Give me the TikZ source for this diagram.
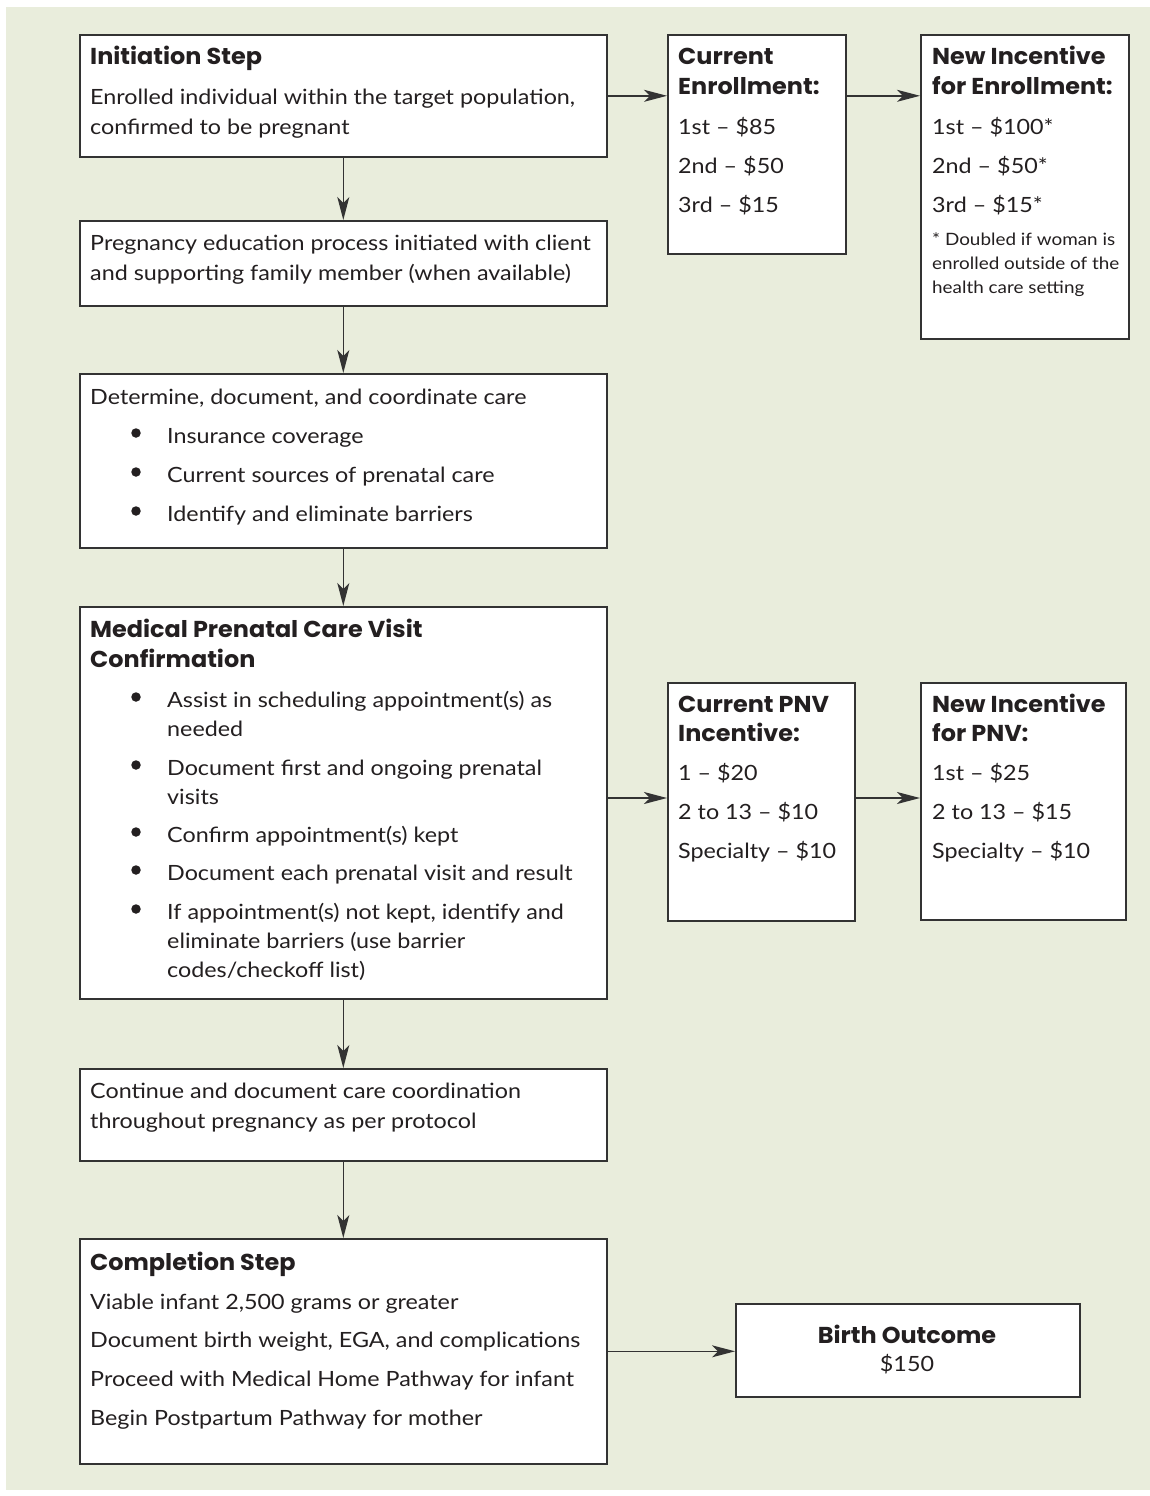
\documentclass[tikz,border=0pt]{standalone}
\usepackage{fontspec}
\setmainfont{Lato}[FakeStretch=1.11]
\newfontfamily\headfont{Poppins}[FakeStretch=1.04]
\usetikzlibrary{arrows.meta}

\definecolor{panel}{HTML}{E9EDDC}
\definecolor{ink}{HTML}{231F20}
\definecolor{rule}{HTML}{333333}

\tikzset{
  stepbox/.style={draw=rule, line width=1.6pt, fill=white, anchor=north west, inner sep=0pt},
  txt/.style={anchor=base west, inner sep=0pt, text=ink, font=\fontsize{21}{25}\selectfont},
  head/.style={txt, font=\fontsize{23}{27}\headfont\bfseries},
  note/.style={txt, font=\fontsize{17}{20}\selectfont},
  ctr/.style={anchor=base, inner sep=0pt, text=ink, font=\fontsize{21}{25}\selectfont},
  bullet/.style={circle, fill=ink, minimum size=9.5pt, inner sep=0pt},
  flow/.style={draw=rule, line width=1.4pt, -{Stealth[length=23pt, width=12pt, inset=6pt]}},
}

\begin{document}
\begin{tikzpicture}[x=1pt, y=-1pt]
\useasboundingbox (0,0) rectangle (1150,1496);
\fill[panel] (6,7) rectangle (1150,1490);

% ---- main column -------------------------------------------------------
\node (init) [stepbox, minimum width=527pt, minimum height=122pt] at (79,34) {};
\node (edu)  [stepbox, minimum width=527pt, minimum height=85pt]  at (79,220) {};
\node (det)  [stepbox, minimum width=527pt, minimum height=174pt] at (79,373) {};
\node (med)  [stepbox, minimum width=527pt, minimum height=392pt] at (79,606) {};
\node (cont) [stepbox, minimum width=527pt, minimum height=92pt]  at (79,1068) {};
\node (comp) [stepbox, minimum width=527pt, minimum height=225pt] at (79,1238) {};

% ---- incentive boxes ---------------------------------------------------
\node (ce)    [stepbox, minimum width=178pt, minimum height=219pt] at (667,34) {};
\node (nie)   [stepbox, minimum width=208pt, minimum height=304pt] at (920,34) {};
\node (cpnv)  [stepbox, minimum width=187pt, minimum height=238pt] at (667,682) {};
\node (npnv)  [stepbox, minimum width=205pt, minimum height=237pt] at (920,682) {};
\node (birth) [stepbox, minimum width=344pt, minimum height=93pt]  at (735,1303) {};

% ---- texts of the main column ------------------------------------------
\node (init-h) [head] at (90,65) {Initiation Step};
\foreach \y/\t [count=\k] in {104/{Enrolled individual within the target population,},
                              134/{confirmed to be pregnant}}
  \node (init-l\k) [txt] at (90,\y) {\t};

\foreach \y/\t [count=\k] in {250/{Pregnancy education process initiated with client},
                              280/{and supporting family member (when available)}}
  \node (edu-l\k) [txt] at (90,\y) {\t};

\node (det-l0) [txt] at (90,404) {Determine, document, and coordinate care};
\foreach \y/\t [count=\k] in {443/{Insurance coverage},
                              482/{Current sources of prenatal care},
                              521/{Identify and eliminate barriers}}{
  \node (det-b\k) [bullet] at (136,\y-10) {};
  \node (det-l\k) [txt] at (167,\y) {\t};
}

\node (med-h1) [head] at (90,637) {Medical Prenatal Care Visit};
\node (med-h2) [head] at (90,667) {Confirmation};
\foreach \y [count=\k] in {707,775,842,880,919}
  \node (med-b\k) [bullet] at (136,\y-10) {};
\foreach \y/\t [count=\k] in {707/{Assist in scheduling appointment(s) as},
                              736/{needed},
                              775/{Document first and ongoing prenatal},
                              804/{visits},
                              842/{Confirm appointment(s) kept},
                              880/{Document each prenatal visit and result},
                              919/{If appointment(s) not kept, identify and},
                              948/{eliminate barriers (use barrier},
                              977/{codes/checkoff list)}}
  \node (med-l\k) [txt] at (167,\y) {\t};

\foreach \y/\t [count=\k] in {1098/{Continue and document care coordination},
                              1128/{throughout pregnancy as per protocol}}
  \node (cont-l\k) [txt] at (90,\y) {\t};

\node (comp-h) [head] at (90,1270) {Completion Step};
\foreach \y/\t [count=\k] in {1309/{Viable infant 2,500 grams or greater},
                              1347/{Document birth weight, EGA, and complications},
                              1386/{Proceed with Medical Home Pathway for infant},
                              1425/{Begin Postpartum Pathway for mother}}
  \node (comp-l\k) [txt] at (90,\y) {\t};

% ---- texts of the incentive boxes --------------------------------------
\node (ce-h1) [head] at (678,65) {Current};
\node (ce-h2) [head] at (678,95) {Enrollment:};
\foreach \y/\t [count=\k] in {134/{1st – \$85}, 173/{2nd – \$50}, 212/{3rd – \$15}}
  \node (ce-l\k) [txt] at (678,\y) {\t};

\node (nie-h1) [head] at (932,65) {New Incentive};
\node (nie-h2) [head] at (932,95) {for Enrollment:};
\foreach \y/\t [count=\k] in {134/{1st – \$100*}, 173/{2nd – \$50*}, 212/{3rd – \$15*}}
  \node (nie-l\k) [txt] at (932,\y) {\t};
\foreach \y/\t [count=\k] in {245/{* Doubled if woman is},
                              269/{enrolled outside of the},
                              293/{health care setting}}
  \node (nie-n\k) [note] at (932,\y) {\t};

\node (cpnv-h1) [head] at (678,712) {Current PNV};
\node (cpnv-h2) [head] at (678,741) {Incentive:};
\foreach \y/\t [count=\k] in {780/{1 – \$20}, 819/{2 to 13 – \$10}, 858/{Specialty – \$10}}
  \node (cpnv-l\k) [txt] at (678,\y) {\t};

\node (npnv-h1) [head] at (932,712) {New Incentive};
\node (npnv-h2) [head] at (932,741) {for PNV:};
\foreach \y/\t [count=\k] in {780/{1st – \$25}, 819/{2 to 13 – \$15}, 858/{Specialty – \$10}}
  \node (npnv-l\k) [txt] at (932,\y) {\t};

\node (birth-h) [ctr, font=\fontsize{23}{27}\headfont\bfseries] at (907,1343) {Birth Outcome};
\node (birth-l) [ctr] at (907,1371) {\$150};

% ---- connectors ---------------------------------------------------------
\coordinate (pnvrow) at (0,798);
\draw[flow] (init.south) -- (edu.north);
\draw[flow] (edu.south)  -- (det.north);
\draw[flow] (det.south)  -- (med.north);
\draw[flow] (med.south)  -- (cont.north);
\draw[flow] (cont.south) -- (comp.north);
\draw[flow] (init.east) -- (init.east -| ce.west);
\draw[flow] (ce.east |- init.east) -- (nie.west |- init.east);
\draw[flow] (med.east |- pnvrow) -- (cpnv.west |- pnvrow);
\draw[flow] (cpnv.east |- pnvrow) -- (npnv.west |- pnvrow);
\draw[flow] (comp.east) -- (comp.east -| birth.west);
\end{tikzpicture}
\end{document}
